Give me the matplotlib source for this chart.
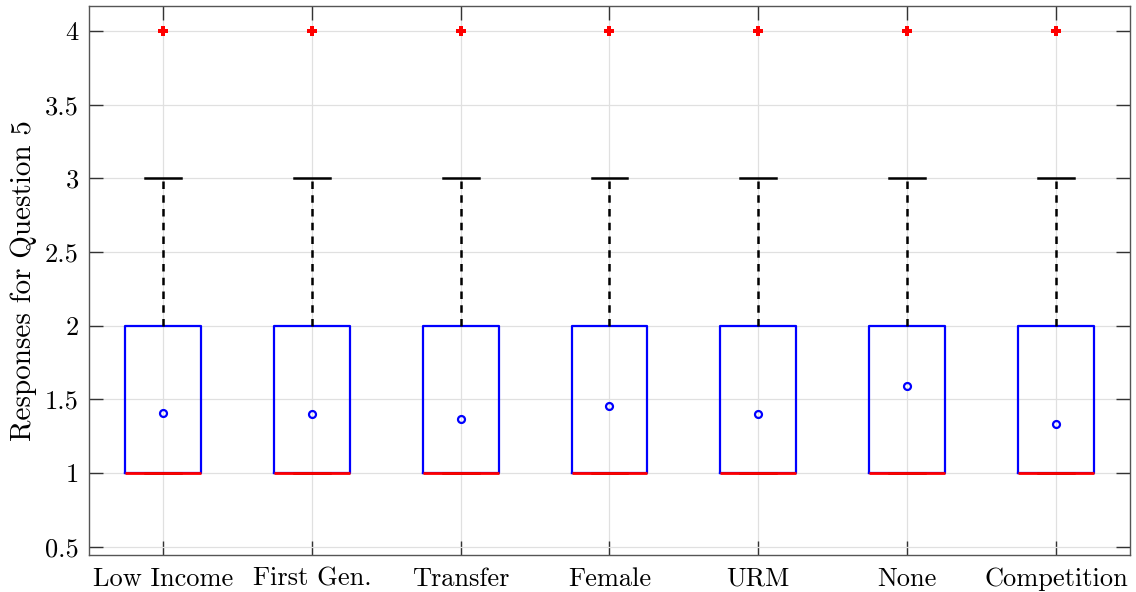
import matplotlib.pyplot as plt

# Grupos y estadisticos de las respuestas a la pregunta 5
grupos = ['Low Income', 'First Gen.', 'Transfer', 'Female', 'URM', 'None', 'Competition']
q1 = [1, 1, 1, 1, 1, 1, 1]
mediana = [1, 1, 1, 1, 1, 1, 1]
q3 = [2, 2, 2, 2, 2, 2, 2]
bigote_inf = [1, 1, 1, 1, 1, 1, 1]
bigote_sup = [3, 3, 3, 3, 3, 3, 3]
atipicos = [[4], [4], [4], [4], [4], [4], [4]]
medias = [1.41, 1.40, 1.365, 1.457, 1.40, 1.59, 1.33]

plt.rcParams['font.family'] = 'serif'
plt.rcParams['font.serif'] = ['cmr10']
plt.rcParams['mathtext.fontset'] = 'cm'
plt.rcParams['axes.formatter.use_mathtext'] = True

stats = []
for i in range(len(grupos)):
    stats.append({'q1': q1[i], 'med': mediana[i], 'q3': q3[i],
                  'whislo': bigote_inf[i], 'whishi': bigote_sup[i],
                  'fliers': atipicos[i], 'mean': medias[i], 'label': grupos[i]})

fig, ax = plt.subplots(figsize=(11.36, 5.92), dpi=100)
fig.subplots_adjust(left=0.078, right=0.995, top=0.99, bottom=0.063)

ax.bxp(stats, widths=0.51, showmeans=True, patch_artist=False,
       boxprops=dict(color='blue', linewidth=1.6),
       medianprops=dict(color='red', linewidth=2),
       whiskerprops=dict(color='black', linewidth=1.8, linestyle=(0, (3, 2.5))),
       capprops=dict(color='black', linewidth=1.8),
       capwidths=0.24,
       flierprops=dict(marker='P', markersize=6.5, markerfacecolor='red',
                       markeredgecolor='red', markeredgewidth=0),
       meanprops=dict(marker='o', markersize=5, markerfacecolor='none',
                      markeredgecolor='blue', markeredgewidth=1.6))

ax.set_xlim(0.5, 7.5)
ax.set_ylim(0.446, 4.17)
ax.set_yticks([0.5, 1, 1.5, 2, 2.5, 3, 3.5, 4])
ax.set_yticklabels(['0.5', '1', '1.5', '2', '2.5', '3', '3.5', '4'])
ax.set_ylabel('Responses for Question 5', fontsize=21, labelpad=6)
ax.tick_params(axis='both', direction='in', top=True, right=True,
               labelsize=19, color='#333333', length=10, width=1)
ax.tick_params(axis='x', pad=9)
ax.tick_params(axis='y', pad=7)
ax.grid(True, color='#e0e0e0', linewidth=0.9)
ax.set_axisbelow(True)
for s in ax.spines.values():
    s.set_color('#555555')
    s.set_linewidth(1)

plt.savefig('out.png', dpi=100)
